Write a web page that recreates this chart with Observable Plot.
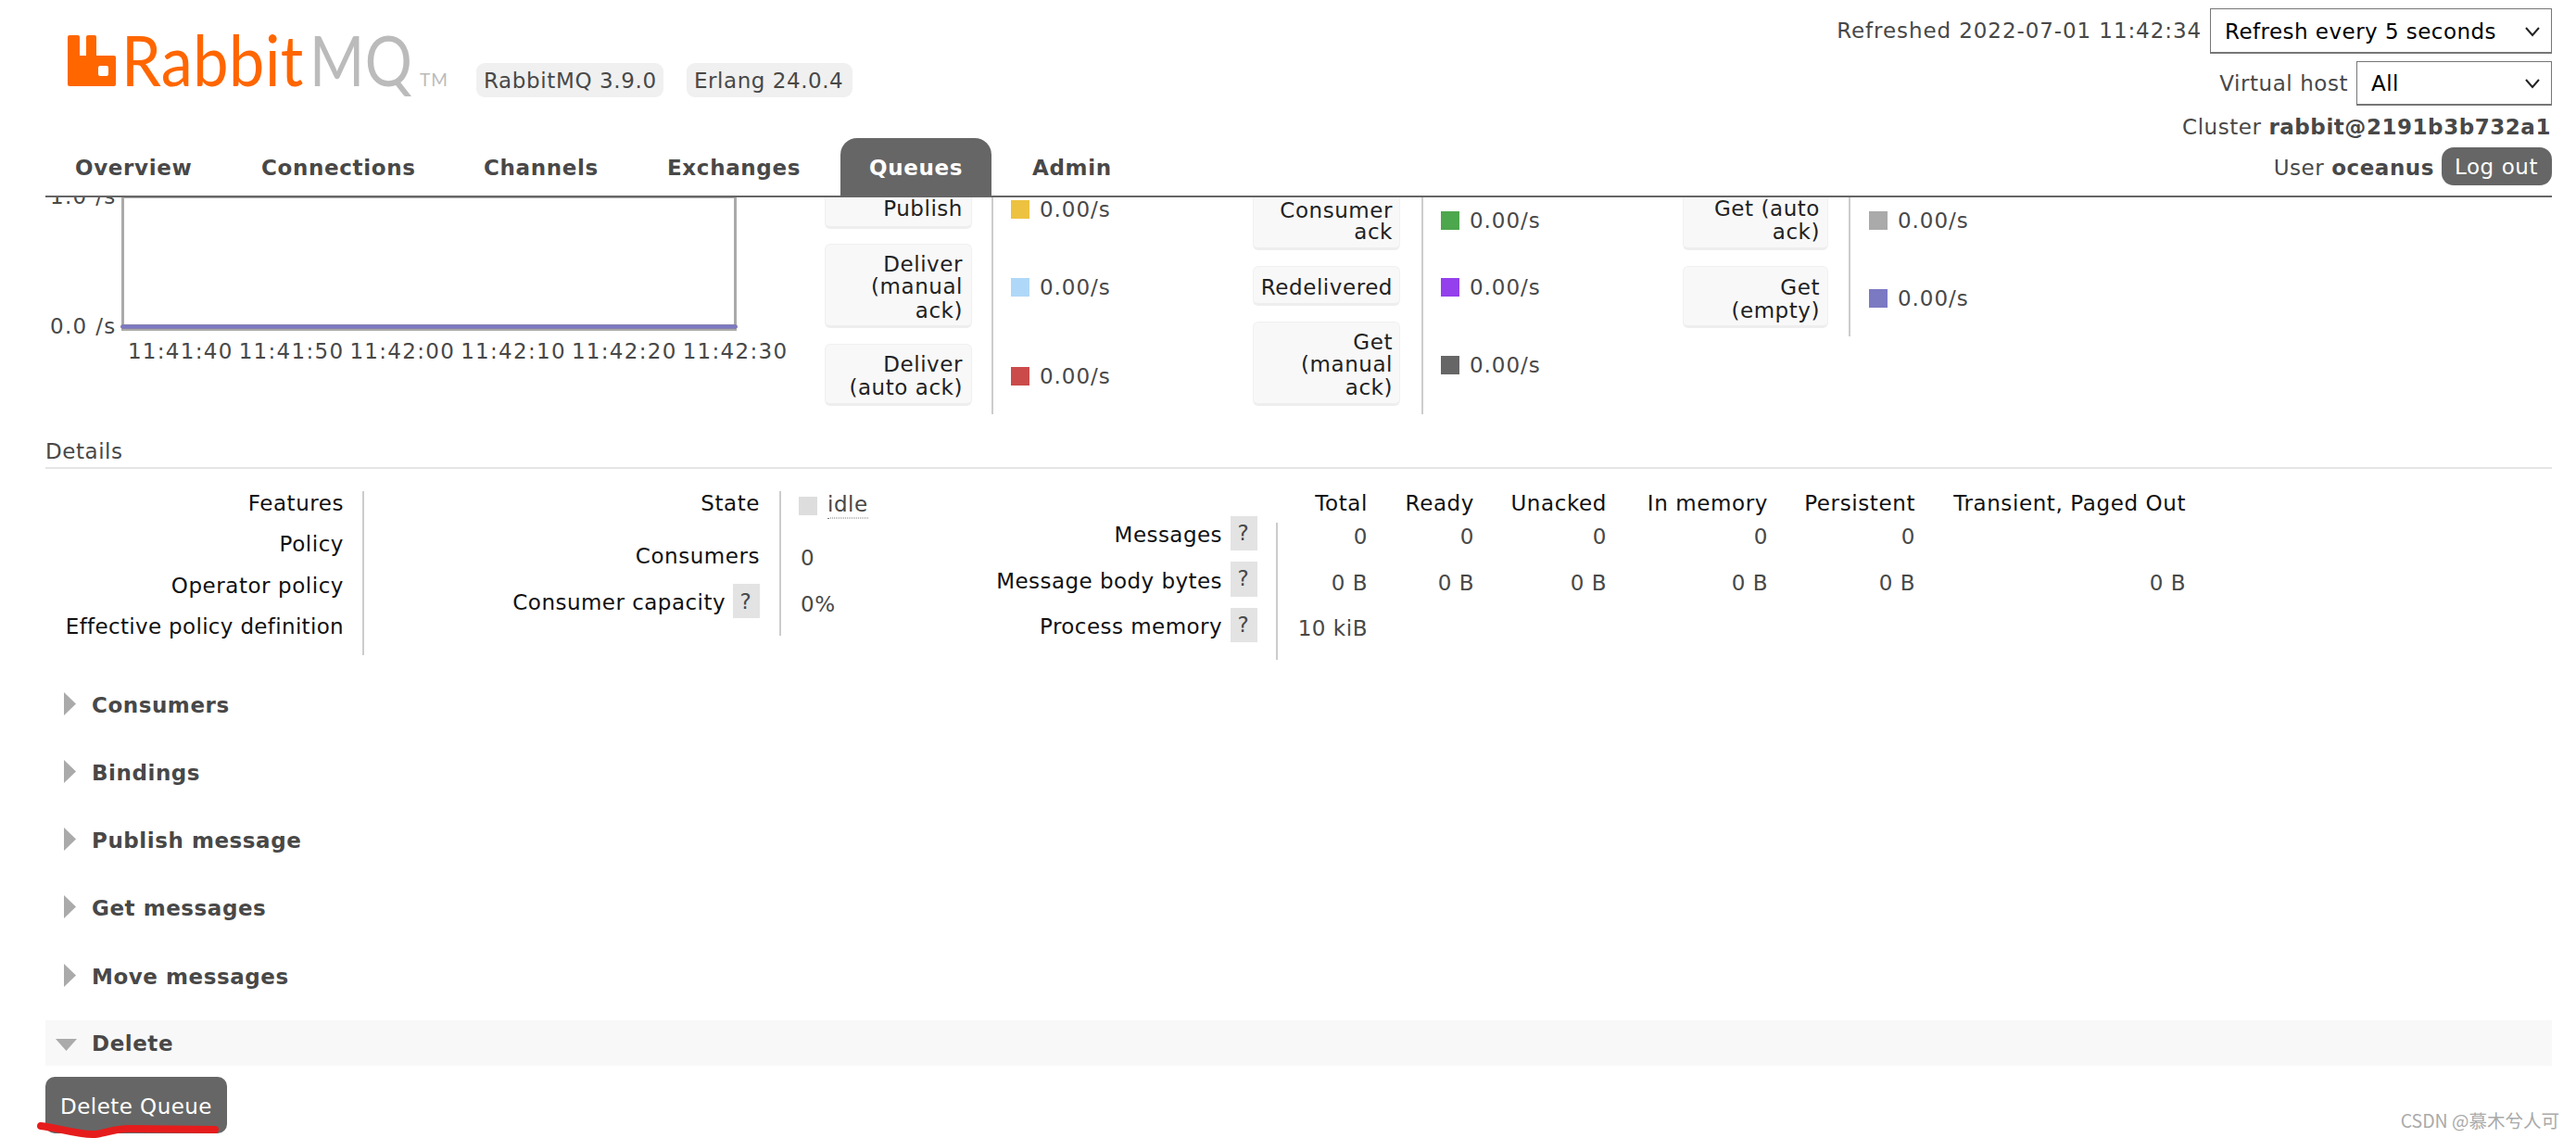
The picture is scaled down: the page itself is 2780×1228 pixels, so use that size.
<!DOCTYPE html>
<html>
<head>
<meta charset="utf-8">
<script src="https://cdn.jsdelivr.net/npm/d3@7"></script>
<script src="https://cdn.jsdelivr.net/npm/@observablehq/plot@0.6"></script>
<style>
html,body{margin:0;padding:0;background:#fff;width:2780px;height:1228px;overflow:hidden}
#page{position:relative;width:2780px;height:1228px;font-family:"DejaVu Sans",Verdana,sans-serif;font-size:23px;letter-spacing:.55px;color:#484848;overflow:hidden}
.a{position:absolute}
.t{position:absolute;white-space:nowrap;line-height:1;transform:translateY(-50%)}
#header{position:absolute;left:0;top:0;width:2780px;height:211px;background:#fff;z-index:5}
#chart{position:absolute;left:0;top:192px;z-index:1}
#chart svg{overflow:visible;background:transparent}
.lbl{position:absolute;background:#f8f8f8;border-radius:6px;border:1px solid #f0f0f0;border-bottom:3px solid #eee;box-sizing:border-box}
</style>
</head>
<body>
<div id="page"></div>
<script>
// ---------- chart data ----------
const seriesNames = ["Publish","Deliver (manual ack)","Deliver (auto ack)","Consumer ack","Redelivered","Get (manual ack)","Get (auto ack)","Get (empty)"];
const seriesRates = ["0.00/s","0.00/s","0.00/s","0.00/s","0.00/s","0.00/s","0.00/s","0.00/s"];
const seriesColors = ["#edc240","#afd8f8","#cb4b4b","#4da74d","#9440ed","#666666","#aaaaaa","#7c79c3"];
const sampleTimes = ["11:41:34.8","11:41:40","11:41:45","11:41:50","11:41:55","11:42:00","11:42:05","11:42:10","11:42:15","11:42:20","11:42:25","11:42:30"];
const sampleRates = [0,0,0,0,0,0,0,0,0,0,0,0];
const xTicks = ["11:41:40","11:41:50","11:42:00","11:42:10","11:42:20","11:42:30"];
const yTicks = [0,1];
const day = "2022-07-01T";
const toDate = s => new Date(day + s + "Z");

// ---------- page text ----------
const navItems = ["Overview","Connections","Channels","Exchanges","Queues","Admin"];
const sectionNames = ["Consumers","Bindings","Publish message","Get messages","Move messages"];
const policyRows = ["Features","Policy","Operator policy","Effective policy definition"];
const msgColumns = ["Total","Ready","Unacked","In memory","Persistent","Transient, Paged Out"];
const msgRows = ["Messages","Message body bytes","Process memory"];
const msgCounts = ["0","0","0","0","0",""];
const msgBytes = ["0 B","0 B","0 B","0 B","0 B","0 B"];
const msgMemory = ["10 kiB","","","","",""];

// ---------- page layout ----------
const page = document.getElementById("page");
const header = document.createElement("div"); header.id = "header"; page.appendChild(header);
function box(x,y,w,h,css,parent){const d=document.createElement("div");d.className="a";d.style.cssText=`left:${x}px;top:${y}px;width:${w}px;height:${h}px;${css||""}`;(parent||page).appendChild(d);return d;}
function txt(s,x,cy,o={},parent){const d=document.createElement("div");d.className="t";d.textContent=s;
  let css=`top:${cy}px;`; css+= o.right? `right:${2780-x}px;`:`left:${x}px;`;
  if(o.center) css=`top:${cy}px;left:${x}px;transform:translate(-50%,-50%);`;
  if(o.color) css+=`color:${o.color};`; if(o.bold) css+="font-weight:700;"; if(o.size) css+=`font-size:${o.size}px;`; if(o.font) css+=`font-family:${o.font};`;
  if(o.ls!==undefined) css+=`letter-spacing:${o.ls}px;`;
  d.style.cssText=css;(parent||page).appendChild(d);return d;}
function rich(parts,x,cy,parent){const d=document.createElement("div");d.className="t";d.style.cssText=`top:${cy}px;right:${2780-x}px;`;
  parts.forEach(([s,b])=>{const sp=document.createElement("span");sp.textContent=s;if(b){sp.style.fontWeight=700;}d.appendChild(sp);});(parent||page).appendChild(d);}

// logo
const logo = document.createElementNS("http://www.w3.org/2000/svg","svg");
logo.setAttribute("width",500);logo.setAttribute("height",130);logo.style.cssText="position:absolute;left:60px;top:0";
logo.innerHTML=`<path fill="#ff6600" fill-rule="evenodd" d="M15 38h9q2 0 2 2v20h7V40q0-2 2-2h7q2 0 2 2v20h19q2 0 2 2v29q0 2-2 2H15q-2 0-2-2V40q0-2 2-2zM46 73v7q0 2 2 2h7q2 0 2-2v-7q0-2-2-2h-7q-2 0-2 2z"/>
<text transform="translate(71,93) scale(.9,1)" font-family="Lato,'Open Sans',sans-serif" font-weight="400" font-size="76" fill="#ff6600">Rabbit</text>
<text transform="translate(274,93) scale(.84,1)" font-family="Lato,'Open Sans',sans-serif" font-weight="400" font-size="76" fill="#bbbbbb">MQ</text>
<text x="393" y="93" font-family="Lato,'Open Sans',sans-serif" font-size="19" letter-spacing="1" fill="#bbbbbb">TM</text>`;
header.appendChild(logo);

// version badges
box(514,68,202,37,"background:#f0f0f0;border-radius:9px",header);
txt("RabbitMQ 3.9.0",522,87,{ls:.63},header);
box(741,68,179,37,"background:#f0f0f0;border-radius:9px",header);
txt("Erlang 24.0.4",749,87,{},header);

// nav
const navX=[81,282,522,720,938,1114];
box(907,149,163,63,"background:#666;border-radius:18px 18px 0 0",header);
navItems.forEach((n,i)=>txt(n,navX[i],181,{bold:true,color:i===4?"#fff":"#484848",ls:.65},header));
box(49,211,2705,2,"background:#666;z-index:6",page);

// top right
txt("Refreshed 2022-07-01 11:42:34",2376,33,{right:true,ls:.92},header);
function select(x,y,w,h,label){
  box(x,y,w,h,"box-sizing:border-box;border:1px solid #767676;border-bottom-width:2px;background:#fff",header);
  txt(label,x+16,y+h/2,{color:"#000",ls:.46},header);
  const c=document.createElementNS("http://www.w3.org/2000/svg","svg");c.setAttribute("width",20);c.setAttribute("height",14);
  c.style.cssText=`position:absolute;left:${x+w-31}px;top:${y+h/2-7}px`;
  c.innerHTML='<path d="M3 3l7 8 7-8" fill="none" stroke="#222" stroke-width="2"/>';header.appendChild(c);
}
select(2385,9,369,49,"Refresh every 5 seconds");
txt("Virtual host",2534,90,{right:true},header);
select(2543,66,211,48,"All");
rich([["Cluster ",0],["rabbit@2191b3b732a1",1]],2753,137,header);
rich([["User ",0],["oceanus",1]],2627,181,header);
box(2635,159,119,41,"background:#666;border-radius:13px",header);
txt("Log out",2694,180,{center:true,color:"#fff"},header);

// stats legend
const statBoxes=[[890,196,159,51],[890,263,159,91],[890,371,159,67],[1352,196,159,74],[1352,287,159,43],[1352,347,159,91],[1816,196,157,74],[1816,287,157,67]];
const statLines=[[["Publish"],[225]],[["Deliver","(manual","ack)"],[285,309,335]],[["Deliver","(auto ack)"],[393,418]],
  [["Consumer","ack"],[227,250]],[["Redelivered"],[310]],[["Get","(manual","ack)"],[369,393,418]],
  [["Get (auto","ack)"],[225,250]],[["Get","(empty)"],[310,335]]];
const statTextRight=[1039,1039,1039,1503,1503,1503,1964,1964];
const swatchX=[1091,1091,1091,1555,1555,1555,2017,2017];
const swatchY=[216,300,396,228,300,384,228,312];
seriesNames.forEach((n,i)=>{
  const b=statBoxes[i];const d=box(b[0],b[1],b[2],b[3],"");d.className="lbl";
  statLines[i][0].forEach((l,j)=>txt(l,statTextRight[i],statLines[i][1][j],{right:true,color:"#222"}));
  box(swatchX[i],swatchY[i],20,20,`background:${seriesColors[i]}`);
  txt(seriesRates[i],swatchX[i]+31,swatchY[i]+10,{ls:.95});
});
[[1070,447],[1534,447],[1995,363]].forEach(([x,b])=>box(x,212,1,b-212,"background:#ccc;width:2px"));

// details
txt("Details",49,487);
box(49,504,2705,2,"background:#e5e5e5");
const ink="#111";
const policyY=[543,587,632,676];
policyRows.forEach((r,i)=>txt(r,371,policyY[i],{right:true,color:ink,ls:i===3?.33:.55}));
box(391,530,2,177,"background:#ccc");
txt("State",820,543,{right:true,color:ink});
txt("Consumers",820,600,{right:true,color:ink});
txt("Consumer capacity",783,650,{right:true,color:ink,ls:.47});
box(791,630,29,37,"background:#e3e3e3");
txt("?",805,649,{center:true});
box(841,530,2,156,"background:#ccc");
box(862,536,20,20,"background:#ddd");
const idle=txt("idle",893,546);idle.style.borderBottom="1px dotted #777";idle.style.paddingBottom="3px";
txt("0",864,602);
txt("0%",864,652);
const rowY=[577,627,676];
const helpY=[[557,37],[606,38],[656,37]];
msgRows.forEach((r,i)=>{txt(r,1319,rowY[i],{right:true,color:ink,ls:.45});box(1328,helpY[i][0],29,helpY[i][1],"background:#e3e3e3");txt("?",1342,helpY[i][0]+helpY[i][1]/2-1,{center:true});});
box(1377,564,2,148,"background:#ccc");
const colRight=[1476,1591,1734,1908,2067,2359];
msgColumns.forEach((c,i)=>{
  txt(c,colRight[i],543,{right:true,color:ink,ls:.6});
  if(msgCounts[i]) txt(msgCounts[i],colRight[i],579,{right:true});
  if(msgBytes[i]) txt(msgBytes[i],colRight[i],629,{right:true});
  if(msgMemory[i]) txt(msgMemory[i],colRight[i],678,{right:true});
});

// collapsible sections
const sectionY=[761,834,907,980,1054];
function tri(x,y,w,h,pts){const s=document.createElementNS("http://www.w3.org/2000/svg","svg");s.setAttribute("width",w);s.setAttribute("height",h);s.style.cssText=`position:absolute;left:${x}px;top:${y}px`;s.innerHTML=`<polygon points="${pts}" fill="#aaa"/>`;page.appendChild(s);}
sectionNames.forEach((n,i)=>{tri(69,sectionY[i]-14,13,25,"0,0 13,12.5 0,25");txt(n,99,sectionY[i],{bold:true});});
box(49,1101,2705,49,"background:#f8f8f8");
tri(60,1121,23,13,"0,0 23,0 11.5,13");
txt("Delete",99,1126,{bold:true});
box(49,1162,196,61,"background:#666;border-radius:10px");
txt("Delete Queue",147,1194,{center:true,color:"#fff",ls:.45});
const scribble=document.createElementNS("http://www.w3.org/2000/svg","svg");scribble.setAttribute("width",300);scribble.setAttribute("height",40);scribble.style.cssText="position:absolute;left:0;top:1200px";
scribble.innerHTML='<path d="M44 15C62 17 82 24 100 24C112 24 120 18 140 18L232 19" fill="none" stroke="#e61c1c" stroke-width="8" stroke-linecap="round"/>';page.appendChild(scribble);

// watermark
txt("CSDN @慕木兮人可",2762,1209,{right:true,size:19.5,color:"#aaa",font:'"Noto Sans CJK SC",sans-serif',ls:0});

// ---------- the chart ----------
const rows = seriesNames.flatMap(name => sampleTimes.map((t,i)=>({name,time:toDate(t),rate:sampleRates[i]})));
const chart = Plot.plot({
  width:900,height:230,
  marginLeft:132,marginRight:107,marginTop:20,marginBottom:67,
  style:{fontFamily:'"DejaVu Sans",Verdana,sans-serif',fontSize:"23px",color:"#484848",background:"transparent",letterSpacing:"1.3px"},
  x:{type:"utc",domain:[toDate(sampleTimes[0]),toDate(sampleTimes[sampleTimes.length-1])]},
  y:{domain:[-0.0214,1]},
  color:{domain:seriesNames,range:seriesColors},
  marks:[
    Plot.axisX(xTicks.map(toDate),{tickSize:0,tickPadding:15,tickFormat:d3.utcFormat("%H:%M:%S"),label:null,anchor:"bottom",fontSize:23,fill:"#484848"}),
    Plot.axisY(yTicks,{tickSize:0,tickPadding:7,tickFormat:d=>d3.format(".1f")(d)+" /s",label:null,anchor:"left",fontSize:23,fill:"#484848"}),
    Plot.frame({stroke:"#aaaaaa",strokeWidth:3}),
    Plot.lineY(rows,{x:"time",y:"rate",z:"name",stroke:"name",strokeWidth:4,curve:"linear"})
  ]
});
const holder=document.createElement("div");holder.id="chart";holder.appendChild(chart);page.appendChild(holder);
</script>
</body>
</html>
